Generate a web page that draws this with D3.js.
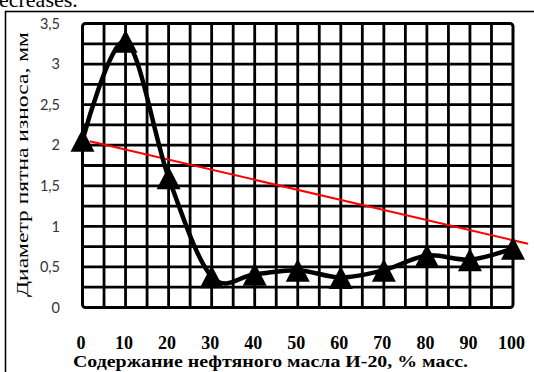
<!DOCTYPE html>
<html>
<head>
<meta charset="utf-8">
<script src="https://cdn.jsdelivr.net/npm/d3@7"></script>
<style>
  html, body { margin: 0; padding: 0; background: #fff; }
  svg { display: block; }
</style>
</head>
<body>
<svg id="chart" width="534" height="372"></svg>
<script>
// Oil content, % mass
const oilContent = [0, 10, 20, 30, 40, 50, 60, 70, 80, 90, 100];
// Wear scar diameter, mm
const wearDiameter = [2.06, 3.28, 1.6, 0.38, 0.41, 0.46, 0.37, 0.46, 0.64, 0.59, 0.73];
// Trend line end points (x, y)
const trendX = [1.7, 103.5];
const trendY = [2.05, 0.785];

const xTickValues = [0, 10, 20, 30, 40, 50, 60, 70, 80, 90, 100];
const xTickLabels = ["0", "10", "20", "30", "40", "50", "60", "70", "80", "90", "100"];
const yTickValues = [0, 0.5, 1, 1.5, 2, 2.5, 3, 3.5];
const yTickLabels = ["0", "0,5", "1", "1,5", "2", "2,5", "3", "3,5"];

const xTitle = "Содержание нефтяного масла И-20, % масс.";
const yTitle = "Диаметр пятна износа, мм";

const svg = d3.select("#chart");
const W = 534, H = 372;
const plot = { left: 82.5, right: 513, top: 23.5, bottom: 307.5 };

const x = d3.scaleLinear().domain([0, 100]).range([plot.left, plot.right]);
const y = d3.scaleLinear().domain([0, 3.5]).range([plot.bottom, plot.top]);

// end of the text line running above the figure
svg.append("text")
  .attr("x", -12).attr("y", 7)
  .attr("font-family", "Liberation Serif, Times New Roman, serif")
  .attr("font-size", 22)
  .attr("fill", "#000")
  .text("decreases.");

// outer frame
svg.append("rect")
  .attr("x", 5.5).attr("y", 11.5)
  .attr("width", W + 10).attr("height", H + 10)
  .attr("fill", "none").attr("stroke", "#000").attr("stroke-width", 1.6);

// grid
const grid = svg.append("g").attr("stroke", "#000").attr("stroke-width", 2.8);
grid.selectAll("line.v")
  .data(d3.range(5, 100, 5))
  .join("line")
  .attr("x1", d => x(d)).attr("x2", d => x(d))
  .attr("y1", plot.top).attr("y2", plot.bottom);
grid.selectAll("line.h")
  .data(d3.range(0.25, 3.5, 0.25))
  .join("line")
  .attr("x1", plot.left).attr("x2", plot.right)
  .attr("y1", d => y(d)).attr("y2", d => y(d));

// plot border
svg.append("rect")
  .attr("x", plot.left).attr("y", plot.top)
  .attr("width", plot.right - plot.left).attr("height", plot.bottom - plot.top)
  .attr("rx", 3)
  .attr("fill", "none").attr("stroke", "#000").attr("stroke-width", 3);

// y tick labels
svg.append("g")
  .selectAll("text")
  .data(yTickValues)
  .join("text")
  .attr("x", 60)
  .attr("y", d => y(d))
  .attr("dy", "0.36em")
  .attr("text-anchor", "end")
  .attr("font-family", "Lato, Open Sans, sans-serif")
  .attr("font-size", 14.5)
  .attr("fill", "#333")
  .text((d, i) => yTickLabels[i]);

// x tick labels
svg.append("g")
  .selectAll("text")
  .data(xTickValues)
  .join("text")
  .attr("x", d => x(d) - 1.5)
  .attr("y", 349)
  .attr("text-anchor", "middle")
  .attr("font-family", "Liberation Serif, Times New Roman, serif")
  .attr("font-weight", "bold")
  .attr("font-size", 18)
  .attr("fill", "#000")
  .text((d, i) => xTickLabels[i]);

// axis titles
svg.append("text")
  .attr("x", 73).attr("y", 367)
  .attr("textLength", 395).attr("lengthAdjust", "spacingAndGlyphs")
  .attr("font-family", "Liberation Serif, Times New Roman, serif")
  .attr("font-weight", "bold")
  .attr("font-size", 16)
  .attr("fill", "#000")
  .text(xTitle);

svg.append("text")
  .attr("transform", "translate(28,297) rotate(-90)")
  .attr("textLength", 265).attr("lengthAdjust", "spacingAndGlyphs")
  .attr("font-family", "Liberation Serif, Times New Roman, serif")
  .attr("font-size", 17)
  .attr("fill", "#000")
  .text(yTitle);

// trend line
svg.append("line")
  .attr("x1", x(trendX[0])).attr("y1", y(trendY[0]))
  .attr("x2", x(trendX[1])).attr("y2", y(trendY[1]))
  .attr("stroke", "#ff0000").attr("stroke-width", 2);

// smoothed data line
const points = oilContent.map((d, i) => [d, wearDiameter[i]]);
svg.append("path")
  .datum(points)
  .attr("fill", "none")
  .attr("stroke", "#000")
  .attr("stroke-width", 4.5)
  .attr("stroke-linejoin", "round")
  .attr("d", d3.line().x(d => x(d[0])).y(d => y(d[1])).curve(d3.curveCardinal.tension(0)));

// triangle markers
const tri = "M0,-11.5 L12,11.5 L-12,11.5 Z";
svg.append("g")
  .selectAll("path")
  .data(points)
  .join("path")
  .attr("transform", d => `translate(${x(d[0])},${y(d[1])})`)
  .attr("d", tri)
  .attr("fill", "#000");
</script>
</body>
</html>
